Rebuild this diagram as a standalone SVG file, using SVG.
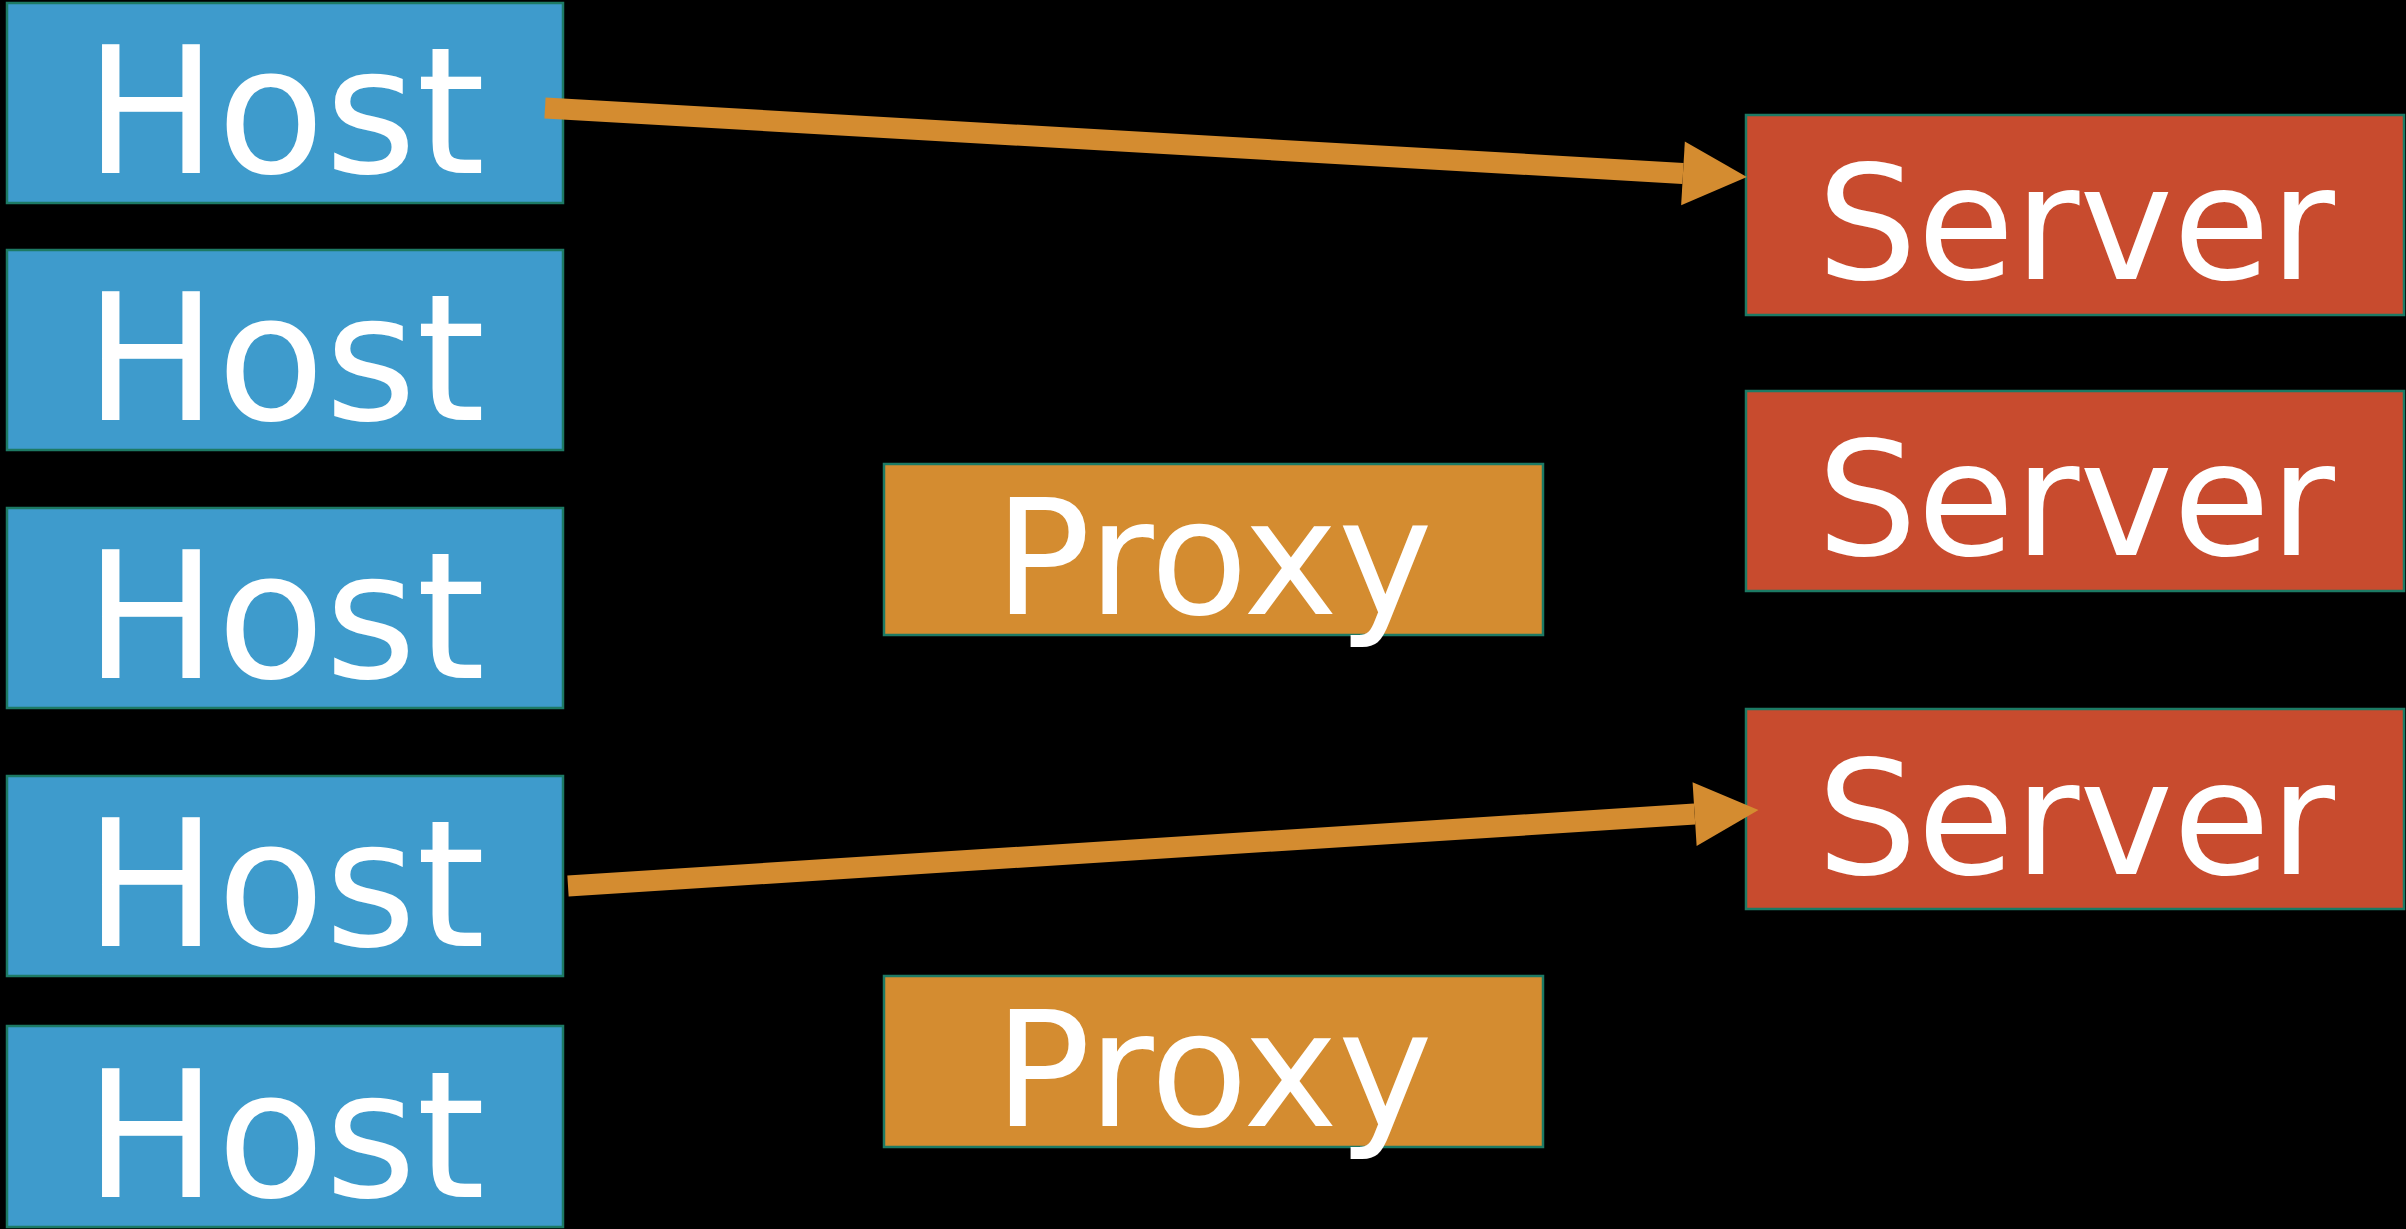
<svg xmlns="http://www.w3.org/2000/svg" width="2406" height="1229" viewBox="0 0 2406 1229">
<style>
.box{stroke:#1d7a64;stroke-width:2.5}
.host{fill:#3e9bcc}
.server{fill:#c84b2e}
.proxy{fill:#d48c30}
.lbl{font-family:"DejaVu Sans",sans-serif;fill:#ffffff;text-anchor:middle}
.lh{font-size:176px}
.ls{font-size:158px}
.lp{font-size:160px}
.conn{stroke:#d48c30;stroke-width:21;fill:none;stroke-linecap:butt}
</style>
<defs>
<marker id="head" markerUnits="userSpaceOnUse" markerWidth="64" markerHeight="64" refX="0" refY="32" orient="auto" overflow="visible">
<path d="M0,0 L64,32 L0,64 Z" fill="#d48c30"/>
</marker>
</defs>
<rect width="2406" height="1229" fill="#000"/>
<g id="host1"><rect class="box host" x="7" y="3" width="556" height="200"/><text class="lbl lh" x="285" y="173">Host</text></g>
<g id="host2"><rect class="box host" x="7" y="250" width="556" height="200"/><text class="lbl lh" x="285" y="420">Host</text></g>
<g id="host3"><rect class="box host" x="7" y="508" width="556" height="200"/><text class="lbl lh" x="285" y="678">Host</text></g>
<g id="host4"><rect class="box host" x="7" y="776" width="556" height="200"/><text class="lbl lh" x="285" y="946">Host</text></g>
<g id="host5"><rect class="box host" x="7" y="1026" width="556" height="201"/><text class="lbl lh" x="285" y="1197">Host</text></g>
<g id="proxy1"><rect class="box proxy" x="884" y="464" width="659" height="171"/><text class="lbl lp" x="1213.5" y="614">Proxy</text></g>
<g id="proxy2"><rect class="box proxy" x="884" y="976" width="659" height="171"/><text class="lbl lp" x="1213.5" y="1126">Proxy</text></g>
<g id="server1"><rect class="box server" x="1746" y="115" width="658" height="200"/><text class="lbl ls" x="2076" y="279">Server</text></g>
<g id="server2"><rect class="box server" x="1746" y="391" width="658" height="200"/><text class="lbl ls" x="2076" y="555">Server</text></g>
<g id="server3"><rect class="box server" x="1746" y="709" width="658" height="200"/><text class="lbl ls" x="2076" y="874">Server</text></g>
<g id="connectors">
<line class="conn" x1="545" y1="108" x2="1683" y2="173.4" marker-end="url(#head)"/>
<line class="conn" x1="568" y1="886" x2="1694.6" y2="814.1" marker-end="url(#head)"/>
</g>
</svg>
